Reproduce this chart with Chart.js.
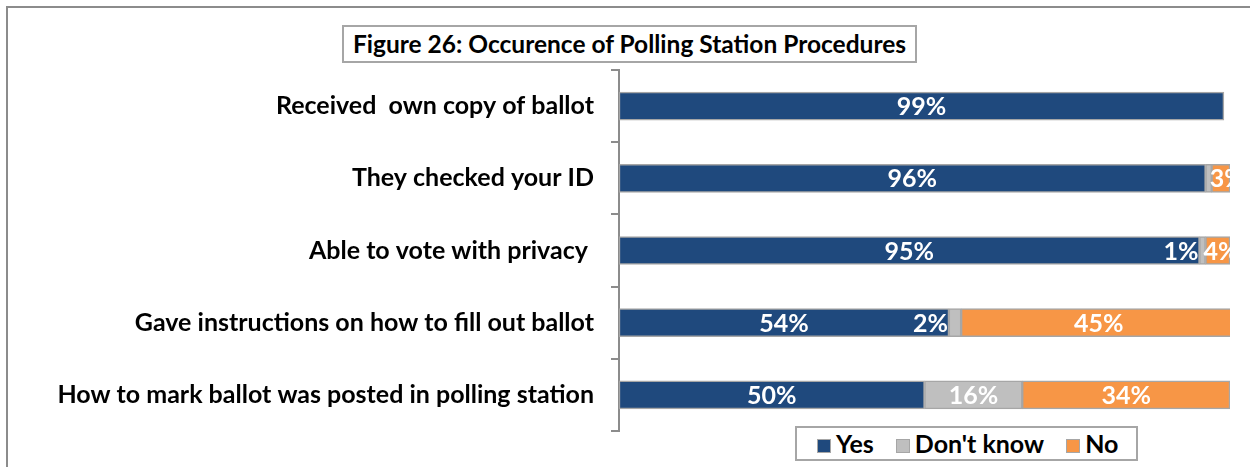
<!DOCTYPE html>
<html>
<head>
<meta charset="utf-8">
<script src="https://cdn.jsdelivr.net/npm/chart.js@4"></script>
<style>
  body { margin: 0; background: #fff; font-family: Lato, "Open Sans", sans-serif; }
  #marco { position: absolute; left: 6px; top: 6px; width: 1400px; height: 600px;
           border-left: 2px solid #8c8c8c; border-top: 2px solid #8c8c8c; }
  #contenedor { position: absolute; left: 0; top: 0; width: 1250px; height: 467px; }
  #titulo { position: absolute; left: 342px; top: 25px; width: 571px; height: 34px;
            border: 2px solid #a6a6a6; background: #fff; font-weight: bold; font-size: 24.5px;
            line-height: 34px; text-align: center; color: #000; white-space: nowrap; }
  #leyenda { position: absolute; left: 795px; top: 426px; width: 343px; height: 35px;
             box-sizing: border-box; padding-left: 20px;
             border: 2px solid #a6a6a6; background: #fff; font-weight: bold; font-size: 25px;
             line-height: 31px; color: #000; white-space: nowrap; }
  #leyenda span.cuadro { display: inline-block; width: 14px; height: 14px; margin: 0 5px 0 0;
                         border: 1px solid #a6a6a6; box-sizing: border-box; vertical-align: 0; }
  #leyenda span.item { margin-right: 16px; }
</style>
</head>
<body>
<div id="marco"></div>
<div id="contenedor"><canvas id="canvasProcedimientos" width="1250" height="467"></canvas></div>
<div id="titulo">Figure 26: Occurence of Polling Station Procedures</div>
<div id="leyenda">
  <span class="item"><span class="cuadro" style="background:#1f497d"></span>Yes</span>
  <span class="item"><span class="cuadro" style="background:#bfbfbf"></span>Don't know</span>
  <span><span class="cuadro" style="background:#f79646"></span>No</span>
</div>
<script>
//Categorias y valores de cada serie
const procedimientos = [
  "Received  own copy of ballot",
  "They checked your ID",
  "Able to vote with privacy ",
  "Gave instructions on how to fill out ballot",
  "How to mark ballot was posted in polling station"
];
const valoresSi = [99, 96, 95, 54, 50];
const valoresNoSabe = [0, 1, 1, 2, 16];
const valoresNo = [0, 3, 4, 45, 34];
const nombresSeries = ["Yes", "Don't know", "No"];
const coloresSeries = ["#1f497d", "#bfbfbf", "#f79646"];
//Etiquetas que no se escriben: [serie, fila]
const etiquetasOcultas = [[1, 1]];

//Plugin para escribir los porcentajes dentro de cada segmento
const etiquetasPlugin = {
  id: 'etiquetas',
  afterDatasetsDraw(chart) {
    const ctx = chart.ctx;
    const area = chart.chartArea;
    ctx.save();
    ctx.beginPath();
    ctx.rect(area.left, 0, area.right - area.left, chart.height);
    ctx.clip();
    ctx.font = "bold 25px Lato";
    ctx.fillStyle = "#fff";
    ctx.textBaseline = "middle";
    chart.data.datasets.forEach((ds, d) => {
      chart.getDatasetMeta(d).data.forEach((bar, i) => {
        const valor = ds.data[i];
        if (!valor) return;
        if (etiquetasOcultas.some(e => e[0] === d && e[1] === i)) return;
        const texto = valor + "%";
        const izq = Math.min(bar.x, bar.base);
        const ancho = Math.abs(bar.x - bar.base);
        const w = ctx.measureText(texto).width;
        if (w + 4 < ancho) {
          ctx.textAlign = "center";
          ctx.fillText(texto, izq + ancho / 2, bar.y + 1);
        } else if (d === 1) {
          ctx.textAlign = "right";
          ctx.fillText(texto, izq - 1, bar.y + 1);
        } else {
          ctx.textAlign = "left";
          ctx.fillText(texto, izq - 2, bar.y + 1);
        }
      });
    });
    ctx.restore();
  }
};

var canvas = document.getElementById("canvasProcedimientos");
let series = [valoresSi, valoresNoSabe, valoresNo];
let datasets = [];
for (let i = 0; i < series.length; i++) {
  datasets.push({
    label: nombresSeries[i],
    data: series[i],
    backgroundColor: coloresSeries[i],
    borderColor: "#a6a6a6",
    borderWidth: 1.5,
    borderSkipped: false,
    barThickness: 28
  });
}

let grafico = new Chart(canvas, {
  type: 'bar',
  data: { labels: procedimientos, datasets: datasets },
  options: {
    responsive: false,
    animation: false,
    indexAxis: 'y',
    layout: { padding: { top: 70, bottom: 36, right: 20, left: 0 } },
    plugins: { legend: { display: false }, tooltip: { enabled: false } },
    scales: {
      x: { stacked: true, min: 0, max: 100, display: false },
      y: {
        stacked: true,
        afterFit: (scale) => { scale.width = 619; },
        grid: { drawOnChartArea: false, tickLength: 8, color: "#8c8c8c", lineWidth: 2 },
        border: { color: "#8c8c8c", width: 2 },
        ticks: { color: "#000", padding: 17, font: { family: "Lato", weight: "bold", size: 25 } }
      }
    }
  },
  plugins: [etiquetasPlugin]
});
</script>
</body>
</html>
